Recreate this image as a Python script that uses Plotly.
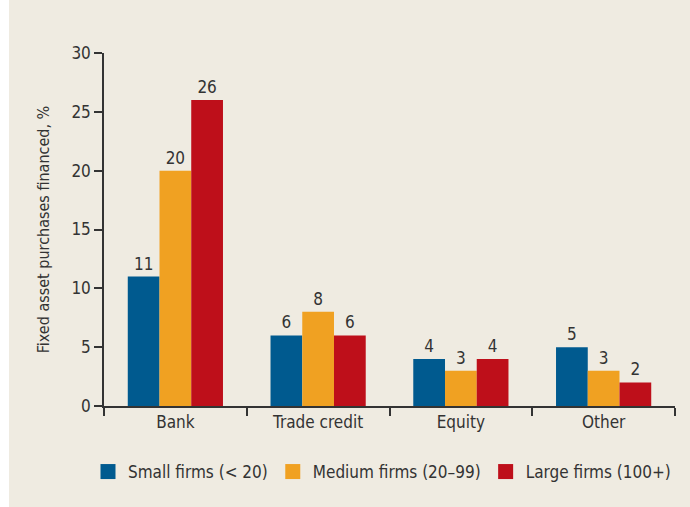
import plotly.graph_objects as go

categories = ["Bank", "Trade credit", "Equity", "Other"]
series_names = ["Small firms (< 20)", "Medium firms (20\u201399)", "Large firms (100+)"]
small_firms = [11, 6, 4, 5]
medium_firms = [20, 8, 3, 3]
large_firms = [26, 6, 4, 2]
y_ticks = [0, 5, 10, 15, 20, 25, 30]

colors = ["#005A8F", "#F0A122", "#BE0F1A"]
panel = "#EFEBE1"
ink = "#333333"
font_family = "Liberation Sans Narrow, DejaVu Sans Condensed, Roboto, sans-serif"

fig = go.Figure()
for name, vals, col in zip(series_names, [small_firms, medium_firms, large_firms], colors):
    fig.add_trace(go.Bar(
        x=categories, y=vals, name=name, legendgroup=name, showlegend=False,
        marker=dict(color=col, line=dict(width=0)),
        text=[str(v) for v in vals], textposition="outside",
        textfont=dict(size=17, color=ink, family=font_family),
        cliponaxis=False,
    ))
# square swatches for the legend
for name, col in zip(series_names, colors):
    fig.add_trace(go.Scatter(
        x=[None], y=[None], mode="markers", name=name, legendgroup=name,
        marker=dict(symbol="square", size=15, color=col, line=dict(width=0)),
    ))

W, H = 690, 507
L, R, T, B = 104, 15, 53, 101
pw, ph = W - L - R, H - T - B

# beige panel behind the whole chart
fig.add_shape(
    type="rect", xref="paper", yref="paper", layer="below",
    x0=(9 - L) / pw, x1=(W - L) / pw,
    y0=-(H - T - ph) / ph, y1=(H - 15 - T) / ph,
    fillcolor=panel, line=dict(width=0),
)

fig.update_layout(
    width=W, height=H,
    margin=dict(l=L, r=R, t=T, b=B, autoexpand=False),
    paper_bgcolor="white", plot_bgcolor=panel,
    barmode="group", bargap=0.333, bargroupgap=0,
    font=dict(family=font_family, size=17, color=ink),
    showlegend=True,
    legend=dict(
        orientation="h", x=(88 - L) / pw, xanchor="left", y=-66 / ph, yanchor="middle",
        font=dict(size=17, color=ink), bgcolor="rgba(0,0,0,0)",
        itemsizing="trace", tracegroupgap=0,
    ),
    xaxis=dict(
        range=[-0.5, 3.5], showline=True, linecolor=ink, linewidth=1.5,
        ticks="outside", tickson="boundaries", ticklen=8, tickwidth=1.5, tickcolor=ink,
        showgrid=False, tickfont=dict(size=17, color=ink), fixedrange=True,
    ),
    yaxis=dict(
        range=[0, 30], tickvals=y_ticks, showline=True, linecolor=ink, linewidth=1.5,
        ticks="outside", ticklen=8, tickwidth=1.5, tickcolor=ink,
        showgrid=False, zeroline=False, tickfont=dict(size=17, color=ink),
        title=dict(text="Fixed asset purchases financed, %", font=dict(size=16, color=ink), standoff=18),
    ),
)

fig.write_html("out.html")
